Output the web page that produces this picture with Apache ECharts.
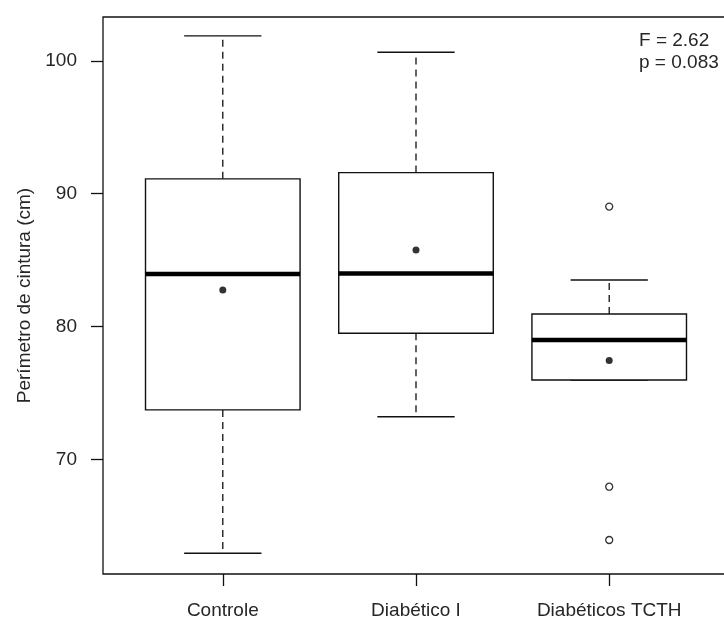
<!DOCTYPE html>
<html style="height: 100%">
  <head>
    <meta charset="utf-8" />
  </head>
  <body style="height: 100%; margin: 0; background: #fff">
    <div id="container" style="width: 724px; height: 620px"></div>

    <script src="https://cdn.jsdelivr.net/npm/echarts@6/dist/echarts.min.js"></script>
    <script type="text/javascript">
      // groups on the x axis (positions 1, 2, 3)
      var categories = ["Controle", "Diabético I", "Diabéticos TCTH"];
      var positions = [1, 2, 3];

      // five-number summaries
      var whiskerLow = [62.94, 73.22, 75.98];
      var q1 = [73.73, 79.5, 75.98];
      var median = [83.96, 84.0, 79.0];
      var q3 = [91.12, 91.59, 80.95];
      var whiskerHigh = [101.88, 100.65, 83.51];

      // group means (filled dots)
      var means = [82.76, 85.77, 77.44];

      // outliers (open circles)
      var outlierGroup = [3, 3, 3];
      var outlierValues = [89.03, 67.95, 63.94];

      var yTicks = [70, 80, 90, 100];
      var statLines = ["F = 2.62", "p = 0.083"];
      var yName = "Perímetro de cintura (cm)";

      var ink = "#111";
      var textColor = "#262626";
      var font = "Liberation Sans, Arial, sans-serif";

      var boxData = [];
      for (var i = 0; i < categories.length; i++) {
        boxData.push([positions[i], whiskerLow[i], q1[i], median[i], q3[i], whiskerHigh[i]]);
      }
      var meanData = [];
      for (i = 0; i < means.length; i++) {
        meanData.push([positions[i], means[i]]);
      }
      var outlierData = [];
      for (i = 0; i < outlierValues.length; i++) {
        outlierData.push([outlierGroup[i], outlierValues[i]]);
      }

      function renderBox(params, api) {
        var x = api.value(0);
        var boxW = api.size([0.8, 0])[0];
        var capW = boxW / 2;
        var pLo = api.coord([x, api.value(1)]);
        var pQ1 = api.coord([x, api.value(2)]);
        var pMed = api.coord([x, api.value(3)]);
        var pQ3 = api.coord([x, api.value(4)]);
        var pHi = api.coord([x, api.value(5)]);
        var cx = pMed[0];
        var dashed = { stroke: ink, lineWidth: 1.3, lineDash: [7, 5] };
        var solid = { stroke: ink, lineWidth: 1.4 };
        return {
          type: "group",
          children: [
            { type: "line", shape: { x1: cx, y1: pQ3[1], x2: cx, y2: pHi[1] }, style: dashed },
            { type: "line", shape: { x1: cx, y1: pQ1[1], x2: cx, y2: pLo[1] }, style: dashed },
            { type: "line", shape: { x1: cx - capW / 2, y1: pHi[1], x2: cx + capW / 2, y2: pHi[1] }, style: solid },
            { type: "line", shape: { x1: cx - capW / 2, y1: pLo[1], x2: cx + capW / 2, y2: pLo[1] }, style: solid },
            {
              type: "rect",
              shape: { x: cx - boxW / 2, y: pQ3[1], width: boxW, height: pQ1[1] - pQ3[1] },
              style: { fill: "#fff", stroke: ink, lineWidth: 1.4 }
            },
            {
              type: "line",
              shape: { x1: cx - boxW / 2, y1: pMed[1], x2: cx + boxW / 2, y2: pMed[1] },
              style: { stroke: "#000", lineWidth: 4.5 }
            }
          ]
        };
      }

      var dom = document.getElementById("container");
      var myChart = echarts.init(dom);

      var option = {
        backgroundColor: "#fff",
        animation: false,
        grid: {
          left: 103,
          width: 626,
          top: 17,
          bottom: 46,
          outerBoundsMode: "none",
          show: true,
          borderColor: ink,
          borderWidth: 1.3
        },
        xAxis: {
          type: "value",
          min: 0.38,
          max: 3.62,
          axisLine: { show: false },
          splitLine: { show: false },
          axisTick: {
            show: true,
            customValues: positions,
            length: 12,
            lineStyle: { color: ink, width: 1.3 }
          },
          axisLabel: {
            customValues: positions,
            formatter: function (v) {
              return categories[Math.round(v) - 1];
            },
            margin: 27,
            fontSize: 19,
            fontFamily: font,
            color: textColor
          }
        },
        yAxis: {
          type: "value",
          min: 61.38,
          max: 103.3,
          name: yName,
          nameLocation: "middle",
          nameRotate: 90,
          nameGap: 69,
          nameTextStyle: { fontSize: 19, fontFamily: font, color: textColor },
          axisLine: { show: false },
          splitLine: { show: false },
          axisTick: {
            show: true,
            customValues: yTicks,
            length: 12,
            lineStyle: { color: ink, width: 1.3 }
          },
          axisLabel: {
            customValues: yTicks,
            margin: 26,
            fontSize: 19,
            fontFamily: font,
            color: textColor
          }
        },
        graphic: [
          {
            type: "text",
            left: 639,
            top: 30,
            style: {
              text: statLines.join("\n"),
              font: "19px " + font,
              lineHeight: 22,
              fill: textColor
            }
          }
        ],
        series: [
          {
            type: "custom",
            renderItem: renderBox,
            data: boxData,
            encode: { x: 0, y: [1, 2, 3, 4, 5] },
            silent: true
          },
          {
            type: "scatter",
            data: meanData,
            symbol: "circle",
            symbolSize: 7,
            itemStyle: { color: "#000" },
            silent: true
          },
          {
            type: "scatter",
            data: outlierData,
            symbol: "circle",
            symbolSize: 7,
            itemStyle: { color: "#fff", borderColor: "#000", borderWidth: 1.3 },
            silent: true
          }
        ]
      };

      myChart.setOption(option);
    </script>
  </body>
</html>
